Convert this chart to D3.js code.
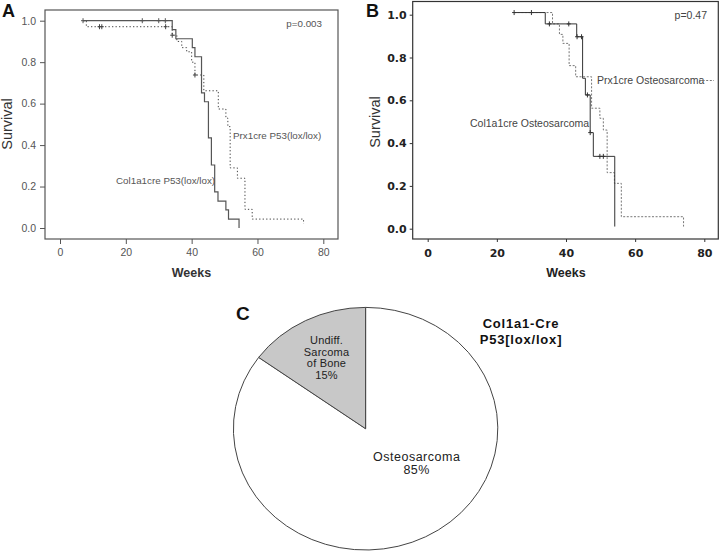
<!DOCTYPE html>
<html>
<head>
<meta charset="utf-8">
<script src="https://cdn.jsdelivr.net/npm/d3@7"></script>
<style>
  html, body { margin: 0; padding: 0; background: #fff; }
  svg { display: block; }
</style>
</head>
<body>
<svg id="chart" width="720" height="552"></svg>
<script>
// ---------------- DATA ----------------
const weekTicks = [0, 20, 40, 60, 80];
const survivalTicks = [0, 0.2, 0.4, 0.6, 0.8, 1.0];

// Panel A: Col1a1cre P53(lox/lox) (solid)
const aCol1a1Weeks    = [7, 34.1, 35.2, 40.2, 41, 43, 43.9, 45.1, 46, 47, 48, 50.4, 51.2, 54.4];
const aCol1a1Survival = [1.0, 0.957, 0.913, 0.870, 0.826, 0.652, 0.609, 0.435, 0.304, 0.174, 0.130, 0.087, 0.043, 0.0];
const aCol1a1CensorWeeks    = [7, 25, 30, 32];
const aCol1a1CensorSurvival = [1.0, 1.0, 1.0, 1.0];

// Panel A: Prx1cre P53(lox/lox) (dotted)
const aPrx1Weeks    = [7, 8, 34.1, 35.5, 37, 38.5, 40, 41, 43.7, 48.1, 50.4, 51, 51.7, 53.9, 56.2, 58.4, 74];
const aPrx1Survival = [1.0, 0.971, 0.93, 0.90, 0.87, 0.85, 0.80, 0.738, 0.662, 0.574, 0.53, 0.489, 0.29, 0.24, 0.09, 0.043, 0.02];
const aPrx1CensorWeeks    = [12, 12.7, 32.1, 34.1, 41];
const aPrx1CensorSurvival = [0.971, 0.971, 0.971, 0.93, 0.738];

// Panel B: Col1a1cre Osteosarcoma (solid)
const bCol1a1Weeks    = [25, 34, 43.1, 44.8, 45.6, 47, 47.9, 54.1];
const bCol1a1Survival = [1.01, 0.957, 0.897, 0.703, 0.625, 0.449, 0.338, 0.01];
const bCol1a1CensorWeeks    = [25, 30, 35.2, 40.8, 43.2, 44.5, 46.2, 47, 49.8, 50.8];
const bCol1a1CensorSurvival = [1.01, 1.01, 0.957, 0.957, 0.897, 0.897, 0.625, 0.449, 0.338, 0.338];

// Panel B: Prx1cre Osteosarcoma (dotted)
const bPrx1Weeks    = [25, 36.1, 38.1, 39.1, 40.9, 42.8, 47.4, 49.8, 50.8, 51.9, 54, 56, 74];
const bPrx1Survival = [1.01, 0.957, 0.908, 0.866, 0.762, 0.71, 0.563, 0.516, 0.461, 0.262, 0.212, 0.056, 0.01];

// Panel C: pie
const pieCategories = ["Osteosarcoma", "Undiff. Sarcoma of Bone"];
const pieValues = [85, 15];
const pieLabelLines = [["Osteosarcoma", "85%"], ["Undiff.", "Sarcoma", "of Bone", "15%"]];

// ---------------- DRAW ----------------
const svg = d3.select("#chart");
const zip = (xs, ys) => xs.map((x, i) => [x, ys[i]]);

function kmPanel(cfg) {
  const g = svg.append("g");
  const x = d3.scaleLinear().domain([0, 80]).range(cfg.xr);
  const y = d3.scaleLinear().domain([0, 1]).range(cfg.yr);

  g.append("rect").attr("x", cfg.box[0]).attr("y", cfg.box[1])
    .attr("width", cfg.box[2] - cfg.box[0]).attr("height", cfg.box[3] - cfg.box[1])
    .attr("fill", "none").attr("stroke", cfg.boxColor).attr("stroke-width", cfg.boxWidth);

  const ya = g.append("g").attr("transform", `translate(${cfg.box[0]},0)`)
    .call(d3.axisLeft(y).tickValues(survivalTicks).tickFormat(d3.format(".1f"))
      .tickSize(cfg.tick).tickPadding(cfg.pad));
  const xa = g.append("g").attr("transform", `translate(0,${cfg.box[3]})`)
    .call(d3.axisBottom(x).tickValues(weekTicks).tickFormat(d3.format("d"))
      .tickSize(cfg.tick).tickPadding(cfg.xpad));
  [ya, xa].forEach(a => {
    a.select(".domain").remove();
    a.selectAll("line").attr("stroke", cfg.boxColor);
    a.selectAll("text").attr("fill", cfg.tickColor)
      .style("font-family", cfg.tickFont).style("font-size", cfg.tickSize + "px")
      .style("font-weight", cfg.tickWeight);
  });

  const line = d3.line().x(d => x(d[0])).y(d => y(d[1])).curve(d3.curveStepAfter);
  cfg.series.forEach(s => {
    g.append("path").attr("d", line(zip(s.t, s.s))).attr("fill", "none")
      .attr("stroke", s.color).attr("stroke-width", s.width)
      .attr("stroke-dasharray", s.dash || null);
    if (s.ct) {
      zip(s.ct, s.cs).forEach(p => {
        const cx = x(p[0]), cy = y(p[1]);
        g.append("path").attr("d", `M${cx - 2},${cy}H${cx + 2}M${cx},${cy - 2.5}V${cy + 2.5}`)
          .attr("stroke", s.color).attr("stroke-width", 1);
      });
    }
  });

  cfg.texts.forEach(t => {
    g.append("text").attr("x", t.x).attr("y", t.y).text(t.s)
      .attr("text-anchor", t.anchor || "start")
      .attr("fill", t.color || cfg.tickColor)
      .style("font-family", t.font || "'Liberation Sans', Arial, sans-serif")
      .style("font-size", t.size + "px").style("font-weight", t.weight || "normal")
      .attr("transform", t.rot ? `rotate(-90,${t.x},${t.y})` : null);
  });
  return {g, x, y};
}

// Panel A
kmPanel({
  xr: [60, 323.3], yr: [228, 20.7], box: [45, 10, 338, 239],
  boxColor: "#555", boxWidth: 1.2, tick: 5, pad: 4, xpad: 5,
  tickColor: "#555", tickFont: "'Liberation Sans', Arial, sans-serif", tickSize: 10.5, tickWeight: "normal",
  series: [
    {t: aPrx1Weeks, s: aPrx1Survival, color: "#444", width: 1, dash: "1.3,2.2", ct: aPrx1CensorWeeks, cs: aPrx1CensorSurvival},
    {t: aCol1a1Weeks, s: aCol1a1Survival, color: "#555", width: 1.2, ct: aCol1a1CensorWeeks, cs: aCol1a1CensorSurvival}
  ],
  texts: [
    {x: 2, y: 17, s: "A", size: 18, weight: "bold", color: "#111"},
    {x: 322, y: 27, s: "p=0.003", size: 9.8, anchor: "end"},
    {x: 233, y: 138.5, s: "Prx1cre P53(lox/lox)", size: 9.8},
    {x: 116, y: 183.5, s: "Col1a1cre P53(lox/lox)", size: 9.8},
    {x: 191.5, y: 277, s: "Weeks", size: 12.5, weight: "bold", anchor: "middle", color: "#333"},
    {x: 12, y: 124, s: "Survival", size: 14.5, anchor: "middle", rot: true, color: "#333"}
  ]
});

// Panel B
const pB = kmPanel({
  xr: [427.7, 704.3], yr: [228.7, 14.7], box: [412.7, 1.5, 718.3, 239],
  boxColor: "#333", boxWidth: 1.2, tick: 3, pad: 3, xpad: 7,
  tickColor: "#222", tickFont: "'DejaVu Sans', Verdana, sans-serif", tickSize: 11, tickWeight: "bold",
  series: [
    {t: bPrx1Weeks, s: bPrx1Survival, color: "#777", width: 1, dash: "2,1.6"},
    {t: bCol1a1Weeks, s: bCol1a1Survival, color: "#333", width: 1, ct: bCol1a1CensorWeeks, cs: bCol1a1CensorSurvival}
  ],
  texts: [
    {x: 366, y: 17, s: "B", size: 18, weight: "bold", color: "#111"},
    {x: 707, y: 18.5, s: "p=0.47", size: 10.5, anchor: "end", color: "#444"},
    {x: 597, y: 84, s: "Prx1cre Osteosarcoma", size: 10.5, color: "#444"},
    {x: 470, y: 126.5, s: "Col1a1cre Osteosarcoma", size: 10.5, color: "#444"},
    {x: 566, y: 277, s: "Weeks", size: 12.5, weight: "bold", anchor: "middle", color: "#222"},
    {x: 380, y: 122, s: "Survival", size: 14.5, anchor: "middle", rot: true, color: "#333"}
  ]
});
// trailing legend dash after the Prx1cre label
pB.g.append("line").attr("x1", 699).attr("x2", 714).attr("y1", 80.5).attr("y2", 80.5)
  .attr("stroke", "#777").attr("stroke-dasharray", "2,1.6");

// Panel C: pie
const cx = 365.6, cy = 428.7, rx = 132.2, ry = 121.3;
const pie = d3.pie().sort(null).value(d => d)(pieValues);
const arc = d3.arc().innerRadius(0).outerRadius(ry);
const pieG = svg.append("g").attr("transform", `translate(${cx},${cy}) scale(${rx / ry},1)`);
const fills = ["#ffffff", "#c8c8c8"];
pieG.selectAll("path").data(pie).enter().append("path")
  .attr("d", arc).attr("fill", (d, i) => fills[i])
  .attr("stroke", "#444").attr("stroke-width", 1).attr("vector-effect", "non-scaling-stroke");

const labelPos = [[416.7, 460.5, 13, 12.5, "0.5px"], [326.5, 344, 11.5, 11, "0.2px"]];
pieLabelLines.forEach((lines, i) => {
  const [lx, ly, dy, fs, ls] = labelPos[i];
  lines.forEach((s, j) => svg.append("text").attr("text-anchor", "middle").attr("fill", "#222")
    .style("font-family", "'Liberation Sans', Arial, sans-serif").style("font-size", fs + "px")
    .style("letter-spacing", ls)
    .attr("x", lx).attr("y", ly + j * dy).text(s));
});

svg.append("text").attr("x", 236).attr("y", 320).text("C")
  .attr("fill", "#111").style("font-family", "'Liberation Sans', Arial, sans-serif")
  .style("font-size", "19px").style("font-weight", "bold");

["Col1a1-Cre", "P53[lox/lox]"].forEach((s, j) => svg.append("text")
  .attr("text-anchor", "middle").attr("fill", "#111")
  .style("font-family", "'Liberation Sans', Arial, sans-serif").style("font-size", "13px")
  .style("font-weight", "bold").style("letter-spacing", "0.8px")
  .attr("x", 521).attr("y", 328 + j * 16).text(s));
</script>
</body>
</html>
